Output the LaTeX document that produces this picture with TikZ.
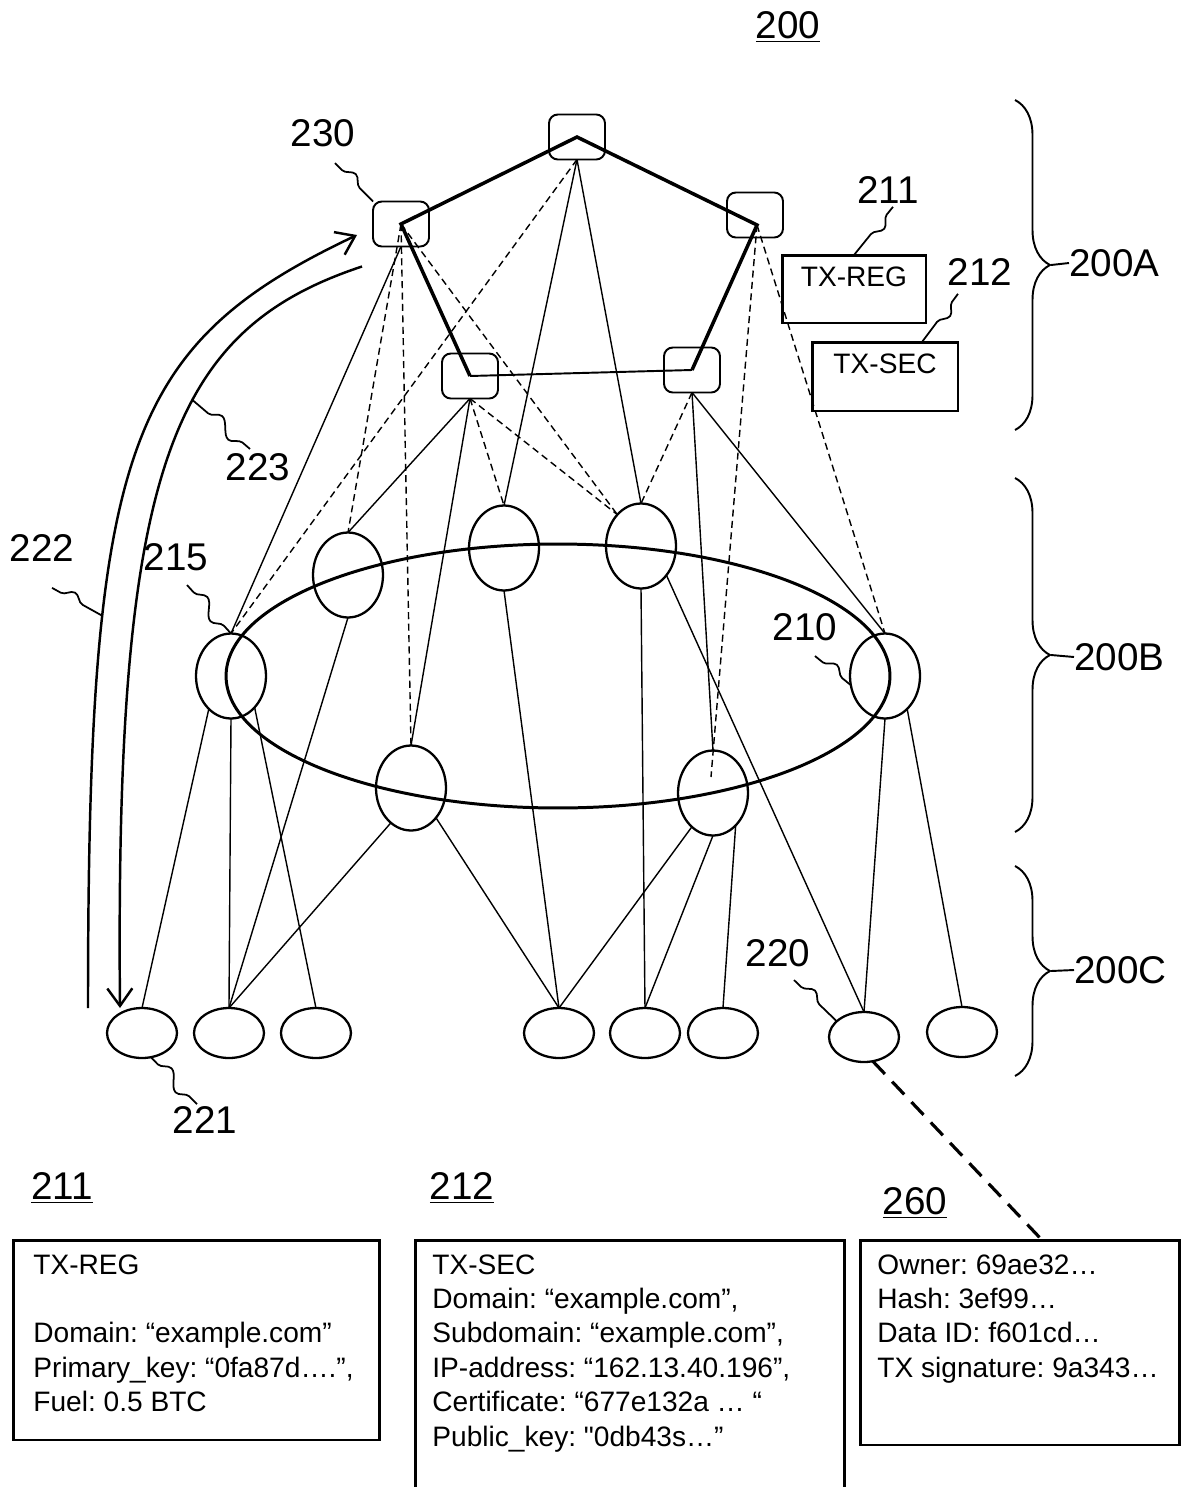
\documentclass[tikz,border=0pt]{standalone}
\usepackage{fontspec}
\setmainfont{Liberation Sans}
\usepackage{tikz}
\usetikzlibrary{arrows.meta,positioning,shapes.geometric,calc,
                decorations.pathmorphing,decorations.pathreplacing}
\frenchspacing

\begin{document}
\begin{tikzpicture}[
  x=0.02cm,y=-0.02cm,
  lbl/.style={font=\fontsize{22pt}{26pt}\selectfont,inner sep=0pt},
  sqnode/.style={draw,rounded corners=5pt,line width=1.1pt,minimum width=1.12cm,
                 minimum height=0.9cm,inner sep=0pt,outer sep=0pt},
  peer/.style={draw,ellipse,line width=1.3pt,minimum width=1.4cm,minimum height=1.7cm,
               inner sep=0pt,outer sep=0pt},
  leaf/.style={draw,ellipse,line width=1.3pt,minimum width=1.4cm,minimum height=1cm,
               inner sep=0pt,outer sep=0pt},
  ln/.style={line width=0.8pt},
  dln/.style={line width=0.8pt,dash pattern=on 4pt off 2.5pt},
  thk/.style={line width=2pt},
  txbox/.style={draw,line width=1.7pt,inner sep=0pt,outer sep=0pt},
  boxtxt/.style={font=\fontsize{16pt}{19.6pt}\selectfont,align=left,inner sep=0pt},
  lead/.style={line width=1pt,decorate,decoration={snake,amplitude=1.4mm,segment length=8mm,
               pre length=2mm,post length=2mm}},
  flow/.style={line width=1.4pt,-{Straight Barb[length=3.5mm,width=5mm]}},
  grp/.style={line width=1.1pt,decorate,decoration={brace,amplitude=0.7cm}}
]
\useasboundingbox (0,0) rectangle (1182,1487);

% Title
\node[lbl] (l200) at (788,27) {\underline{200}};

% Upper layer 200A
\node[sqnode] (top) at (577,137) {};
\node[sqnode] (n230) at (401,224) {};
\node[sqnode] (rt) at (755,215) {};
\node[sqnode] (ll) at (470,376) {};
\node[sqnode] (lr) at (692,370) {};
\coordinate (rtv) at ($(rt)+(2,10)$);

\draw[thk] (ll.center) -- (n230.center) -- (top.center) -- (rtv) -- (lr.center);
\draw[line width=1.1pt] (ll.center) -- (lr.center);

% Transactions
\node[txbox,minimum width=2.88cm,minimum height=1.36cm] (txreg) at (854,289) {};
\node[boxtxt,below=6.5pt of txreg.north] (txregt) {TX-REG};
\node[txbox,minimum width=2.92cm,minimum height=1.38cm] (txsec) at (885,376.5) {};
\node[boxtxt,below=6.5pt of txsec.north] (txsect) {TX-SEC};

% Middle layer 200B
\node[draw,ellipse,line width=1.7pt,minimum width=13.28cm,minimum height=5.28cm] (ring) at (558,676) {};
\node[peer] (p215) at (231,676) {};
\node[peer] (p2) at (348,575) {};
\node[peer] (p3) at (504,548) {};
\node[peer] (p4) at (641,546) {};
\node[peer] (p210) at (885,676) {};
\node[peer] (p6) at (411,788) {};
\node[peer] (p7) at (713,793) {};
\coordinate (p7in) at ($(p7)+(-2,-16)$);

% Lower layer 200C
\node[leaf] (c221) at (142,1033) {};
\node[leaf,right=0.34cm of c221] (c2) {};
\node[leaf,right=0.34cm of c2] (c3) {};
\node[leaf] (c4) at (559,1033) {};
\node[leaf,right=0.32cm of c4] (c5) {};
\node[leaf,right=0.16cm of c5] (c6) {};
\node[leaf] (c220) at (864,1037) {};
\node[leaf] (c8) at (962,1032) {};

% Upper to middle
\draw[ln] (n230.south) -- (p215.north);
\draw[dln] (n230.center) -- (p2.north);
\draw[dln] (n230.center) -- (p6.north);
\draw[dln] (n230.center) -- (p4.127);
\draw[dln] (top.south) -- (p215.north);
\draw[ln] (top.south) -- (p3.north);
\draw[ln] (top.south) -- (p4.north);
\draw[ln] (ll.south) -- (p2.north);
\draw[ln] (ll.south) -- (p6.north);
\draw[dln] (ll.south) -- (p3.north);
\draw[dln] (ll.south) -- (p4.127);
\draw[dln] (lr.south) -- (p4.north);
\draw[ln] (lr.south) -- (p7.north);
\draw[ln] (lr.south) -- (p210.north);
\draw[dln] (rtv) -- (p7in);
\draw[dln] (rtv) -- (p210.north);

% Middle to lower
\draw[ln] (p215.236) -- (c221.north);
\draw[ln] (p215.south) -- (c2.north);
\draw[ln] (p215.307) -- (c3.north);
\draw[ln] (p2.south) -- (c2.north);
\draw[ln] (p6.240) -- (c2.north);
\draw[ln] (p6.310) -- (c4.north);
\draw[ln] (p3.south) -- (c4.north);
\draw[ln] (p7.238) -- (c4.north);
\draw[ln] (p7.south) -- (c5.north);
\draw[ln] (p7.305) -- (c6.north);
\draw[ln] (p4.south) -- (c5.north);
\draw[ln] (p4.311) -- (c220.north);
\draw[ln] (p210.south) -- (c220.north);
\draw[ln] (p210.304) -- (c8.north);

% Flows 222 and 223
\coordinate (up0) at ($(c221.north)+(-54,0)$);
\coordinate (up1) at ($(n230.west)+(-16,11)$);
\coordinate (dn0) at ($(n230.south west)+(-11,20)$);
\coordinate (dn1) at ($(c221.north)+(-22,0)$);
\draw[flow] (up0) .. controls (88,450) and (125,345) .. coordinate[pos=0.3] (m222) (up1);
\draw[flow] (dn0) .. controls (170,330) and (115,470) .. coordinate[pos=0.4] (m223) (dn1);

% Reference numerals
\node[lbl] (l230) at (323,133) {230};
\node[lbl] (l211) at (888,190) {211};
\node[lbl] (l212) at (980,272) {212};
\node[lbl] (l223) at (258,467) {223};
\node[lbl] (l222) at (42,548) {222};
\node[lbl] (l215) at (176,557) {215};
\node[lbl] (l210) at (805,627) {210};
\node[lbl] (l220) at (778,953) {220};
\node[lbl] (l221) at (205,1120) {221};

\draw[lead] ($(l230.south)+(12,16)$) -- (n230.north west);
\draw[lead] ($(l211.south)+(5,3)$) -- (txreg.north);
\draw[lead] ($(l212.south)+(-22,8)$) -- ($(txsec.north)+(37,0)$);
\draw[lead] ($(l223.north)+(-8,-4)$) -- (m223);
\draw[lead] ($(l222.south)+(10,26)$) -- (m222);
\draw[lead] ($(l215.south)+(11,14)$) -- (p215.north);
\draw[lead] ($(l210.south)+(10,15)$) -- (p210.195);
\draw[lead] ($(l220.south)+(16,13)$) -- (c220.150);
\draw[lead] (c221.290) -- ($(l221.north)+(-8,-2)$);

% Layer braces
\draw[grp] (1015,100) -- coordinate[pos=0.5] (bA) (1015,430);
\draw[grp] (1015,478) -- coordinate[pos=0.5] (bB) (1015,832);
\draw[grp] (1015,866) -- coordinate[pos=0.5] (bC) (1015,1076);
\node[lbl,anchor=west] (l200A) at (1069,263) {200A};
\node[lbl,anchor=west] (l200B) at (1074,657) {200B};
\node[lbl,anchor=west] (l200C) at (1074,970) {200C};
\draw[line width=1.1pt] ($(bA)+(36,0)$) -- (l200A.west);
\draw[line width=1.1pt] ($(bB)+(36,0)$) -- (l200B.west);
\draw[line width=1.1pt] ($(bC)+(36,0)$) -- (l200C.west);

% Transaction contents
\node[lbl] (u211) at (62,1188) {\underline{211}};
\node[lbl] (u212) at (462,1188) {\underline{212}};
\node[lbl] (u260) at (915,1203) {\underline{260}};

\node[txbox,minimum width=7.34cm,minimum height=4cm] (box211) at (196.5,1340) {};
\node[boxtxt,anchor=north west] (t211) at ($(box211.north west)+(20,14)$)
  {TX-REG\\[19.6pt]Domain: “example.com”\\Primary\_key: “0fa87d….”,\\Fuel: 0.5 BTC};
\node[txbox,minimum width=8.6cm,minimum height=5.2cm] (box212) at (630,1370) {};
\node[boxtxt,anchor=north west] (t212) at ($(box212.north west)+(17,14)$)
  {TX-SEC\\Domain: “example.com”,\\Subdomain: “example.com”,\\IP-address: “162.13.40.196”,\\Certificate: “677e132a … “\\Public\_key: \textquotedbl0db43s…”};
\node[txbox,minimum width=6.4cm,minimum height=4.1cm] (box260) at (1020,1342.5) {};
\node[boxtxt,anchor=north west] (t260) at ($(box260.north west)+(17,14)$)
  {Owner: 69ae32…\\Hash: 3ef99…\\Data ID: f601cd…\\TX signature: 9a343…};

\draw[line width=1.8pt,dash pattern=on 10pt off 6pt] (c220.290) -- ($(box260.north)+(22,0)$);

\end{tikzpicture}
\end{document}
